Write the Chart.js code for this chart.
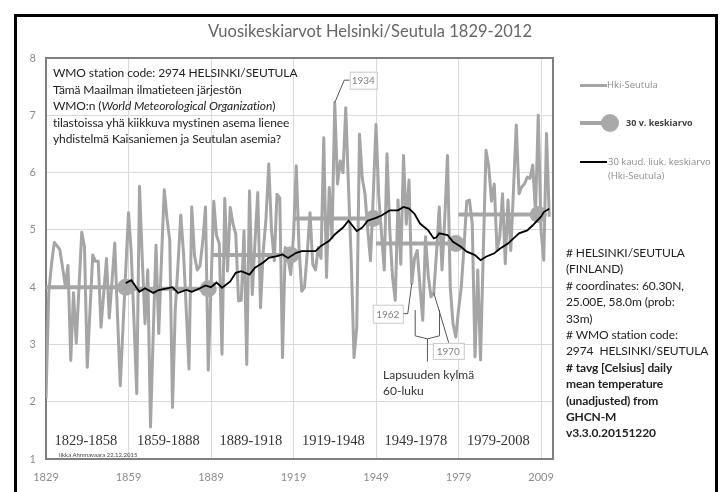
<!DOCTYPE html>
<html>
<head>
<meta charset="utf-8">
<script src="https://cdn.jsdelivr.net/npm/chart.js@4.4.0/dist/chart.umd.min.js"></script>
<style>
  html, body { margin: 0; padding: 0; background: #fff; }
  #wrap { position: relative; width: 726px; height: 492px; overflow: hidden; font-family: Lato, sans-serif; }
  #chart { position: absolute; left: 0; top: 0; }
  .frame { position: absolute; left: 14px; top: 14px; width: 698px; height: 520px; border: 3px solid #000; }
  .abs { position: absolute; white-space: nowrap; }
  .title { left: 0; width: 740px; top: 21px; text-align: center; font-size: 16.5px; color: #666; }
  .note { left: 53px; top: 65px; font-size: 12px; letter-spacing: -0.1px; line-height: 16.5px; color: #222; }
  .info { left: 566px; top: 245px; font-size: 12px; letter-spacing: -0.1px; line-height: 16.4px; color: #222; }
  .info b { font-weight: 700; }
  .leg-line { position: absolute; }
  .leg-text { position: absolute; white-space: nowrap; font-family: "Open Sans", sans-serif; font-size: 9.5px; color: #8c8c8c; line-height: 14px; }
  .period { position: absolute; top: 432px; font-family: "Liberation Serif", serif; font-size: 14.5px; color: #333; white-space: nowrap; transform: translateX(-50%); }
  .sign { left: 59px; top: 451px; font-size: 6px; color: #444; }
  .kid { left: 383px; top: 367px; font-size: 12px; line-height: 15.5px; color: #333; }
</style>
</head>
<body>
<div id="wrap">
  <canvas id="chart" width="726" height="492"></canvas>
  <div class="frame"></div>
  <div class="abs title">Vuosikeskiarvot Helsinki/Seutula 1829-2012</div>
  <div class="abs note">WMO station code: 2974 HELSINKI/SEUTULA<br>Tämä Maailman ilmatieteen järjestön<br>WMO:n (<i>World Meteorological Organization</i>)<br>tilastoissa yhä kiikkuva mystinen asema lienee<br>yhdistelmä Kaisaniemen ja Seutulan asemia?</div>

  <!-- legend -->
  <div class="leg-line" style="left:580px;top:84px;width:27px;height:3px;background:#a5a5a5"></div>
  <div class="leg-text" style="left:607px;top:78px">Hki-Seutula</div>
  <div class="leg-line" style="left:580px;top:121px;width:26px;height:4px;background:#a5a5a5"></div>
  <div class="leg-line" style="left:601px;top:114px;width:18px;height:18px;border-radius:50%;background:#a9a9a9"></div>
  <div class="leg-text" style="left:626px;top:116px;font-weight:700;color:#404040;font-size:9px">30 v. keskiarvo</div>
  <div class="leg-line" style="left:580px;top:161px;width:27px;height:2px;background:#000"></div>
  <div class="leg-text" style="left:608px;top:155px">30 kaud. liuk. keskiarvo<br>(Hki-Seutula)</div>

  <div class="abs info"># HELSINKI/SEUTULA<br>(FINLAND)<br># coordinates: 60.30N,<br>25.00E, 58.0m (prob:<br>33m)<br># WMO station code:<br>2974&nbsp; HELSINKI/SEUTULA<br><b># tavg [Celsius] daily<br>mean temperature<br>(unadjusted) from<br>GHCN-M<br>v3.3.0.20151220</b></div>

  <div class="abs sign">Ilkka Ahnmavaara 22.12.2015</div>
  <div class="abs kid">Lapsuuden kylmä<br>60-luku</div>
  <div id="periods"></div>
</div>

<script>
// annual mean temperatures, one block per 30-year period
const firstYear = 1829;
const temps1829 = [2.05, 3.9, 4.4, 4.78, 4.72, 4.66, 4.35, 4.03, 4.38, 2.72,
                   3.9, 3.02, 4.0, 4.96, 4.7, 2.6, 3.6, 4.56, 4.45, 4.45,
                   3.3, 3.9, 4.5, 3.46, 4.1, 4.77, 3.5, 2.28, 3.3, 4.3];
const temps1859 = [5.3, 4.6, 3.4, 2.14, 5.76, 4.5, 3.36, 4.3, 1.56, 3.2,
                   4.73, 3.19, 4.5, 5.7, 5.2, 4.82, 1.9, 3.6, 4.4, 5.26,
                   4.6, 3.6, 2.57, 5.4, 4.55, 4.3, 4.37, 4.8, 5.4, 2.55];
const temps1889 = [4.0, 5.5, 4.9, 4.76, 2.83, 5.55, 4.28, 5.39, 5.1, 4.93,
                   3.76, 3.77, 4.98, 2.65, 5.68, 3.87, 4.8, 5.65, 3.64, 4.63,
                   5.2, 6.15, 5.0, 4.46, 5.62, 5.56, 2.77, 4.69, 4.5, 4.22];
const temps1919 = [4.9, 6.12, 4.69, 3.93, 4.0, 4.6, 5.3, 4.4, 4.3, 4.69,
                   4.5, 6.61, 4.17, 5.74, 4.86, 7.22, 5.8, 6.2, 6.0, 7.13,
                   5.74, 4.46, 2.77, 3.3, 6.67, 5.9, 5.62, 5.0, 4.46, 5.6];
const temps1949 = [6.84, 5.58, 4.94, 4.3, 6.33, 5.0, 4.18, 3.77, 5.52, 4.4,
                   6.3, 5.1, 5.87, 4.06, 4.5, 4.64, 4.0, 3.42, 4.88, 4.2,
                   3.83, 3.9, 4.6, 5.4, 4.3, 5.2, 6.3, 4.0, 3.36, 3.13];
const temps1979 = [3.6, 4.0, 4.7, 5.5, 5.52, 5.1, 2.78, 4.3, 2.73, 4.6,
                   6.39, 6.1, 5.5, 5.8, 4.64, 4.88, 5.63, 4.41, 5.52, 4.64,
                   5.7, 6.83, 5.63, 5.75, 5.8, 5.92, 5.9, 6.13, 5.3, 7.0];
const temps2009 = [4.99, 4.47, 6.68, 5.23];

// 30 year means
const periodStarts = [1829, 1859, 1889, 1919, 1949, 1979];
const periodMeans = [4.0, 3.97, 4.56, 5.2, 4.76, 5.27];

// 30 year moving average (black line), read at a few points
const maYears = [1858, 1860, 1863, 1865, 1868, 1870, 1875, 1877, 1880, 1882, 1885, 1887,
                 1889, 1891, 1893, 1896, 1898, 1900, 1903, 1905, 1908, 1910, 1913, 1915, 1917,
                 1920, 1922, 1925, 1927, 1929, 1932, 1934, 1937, 1939, 1942, 1944, 1946,
                 1949, 1951, 1954, 1957, 1959, 1961, 1963, 1965, 1968, 1970, 1971, 1972, 1975, 1977,
                 1980, 1982, 1985, 1987, 1989, 1992, 1994, 1997, 1999, 2001, 2004, 2006, 2009, 2010, 2012];
const maValues = [4.07, 4.12, 3.92, 3.98, 3.9, 3.95, 4.0, 3.9, 3.95, 3.92, 3.98, 4.03,
                  4.0, 4.08, 3.99, 4.1, 4.25, 4.28, 4.22, 4.34, 4.43, 4.51, 4.54, 4.57, 4.51,
                  4.6, 4.63, 4.63, 4.63, 4.72, 4.81, 4.92, 5.04, 5.16, 4.98, 5.04, 5.16,
                  5.21, 5.25, 5.34, 5.34, 5.4, 5.37, 5.28, 5.11, 4.99, 4.85, 4.87, 4.94, 4.91, 4.79,
                  4.7, 4.62, 4.56, 4.47, 4.53, 4.59, 4.67, 4.76, 4.85, 4.94, 4.99, 5.08, 5.23, 5.31, 5.37];

// axis ticks
const xTicks = [1829, 1859, 1889, 1919, 1949, 1979, 2009];
const yTicks = [1, 2, 3, 4, 5, 6, 7, 8];

// years that get a small label box
const labelledYears = [1934, 1962, 1970];

const annualTemps = [].concat(temps1829, temps1859, temps1889, temps1919, temps1949, temps1979, temps2009);
const annualPoints = annualTemps.map((v, i) => ({ x: firstYear + i, y: v }));

const meanPoints = [];
periodStarts.forEach((s, i) => {
    meanPoints.push({ x: s, y: periodMeans[i] }, { x: s + 29, y: periodMeans[i] }, { x: s + 29, y: null });
});

const maPoints = maYears.map((yr, i) => ({ x: yr, y: maValues[i] }));

Chart.defaults.font.family = 'Lato, sans-serif';

// plot frame, year boxes and the bracket under the 60's
const notesPlugin = {
    id: 'notes',
    beforeDatasetsDraw(chart) {
        const { left, top, right, bottom } = chart.chartArea;
        const ctx = chart.ctx;
        ctx.save();
        ctx.strokeStyle = '#7f7f7f';
        ctx.lineWidth = 2;
        ctx.strokeRect(left, top, right - left, bottom - top);
        ctx.restore();
    },
    afterDatasetsDraw(chart) {
        const ctx = chart.ctx;
        const xs = chart.scales.x, ys = chart.scales.y;
        const pts = chart.getDatasetMeta(2).data;
        ctx.save();
        ctx.font = '10px Lato, sans-serif';
        ctx.textAlign = 'center';
        ctx.textBaseline = 'middle';

        function box(bx, by, w, h, txt) {
            ctx.fillStyle = '#fff';
            ctx.fillRect(bx, by, w, h);
            ctx.strokeStyle = '#c8c8c8';
            ctx.lineWidth = 1;
            ctx.strokeRect(bx + 0.5, by + 0.5, w, h);
            ctx.fillStyle = '#7f7f7f';
            ctx.fillText(txt, bx + w / 2, by + h / 2 + 1);
        }
        function path(list) {
            ctx.strokeStyle = '#555';
            ctx.lineWidth = 1;
            ctx.beginPath();
            list.forEach((p, i) => i ? ctx.lineTo(p[0], p[1]) : ctx.moveTo(p[0], p[1]));
            ctx.stroke();
        }

        // 1934
        let p = pts[labelledYears[0] - firstYear];
        path([[p.x, p.y], [p.x + 9.5, p.y - 22.5], [p.x + 15, p.y - 22.5]]);
        box(p.x + 15, p.y - 31, 27, 17, String(labelledYears[0]));
        // 1962
        p = pts[labelledYears[1] - firstYear];
        path([[p.x, p.y], [p.x - 4, p.y + 30], [p.x - 9, p.y + 30]]);
        box(p.x - 39, p.y + 21, 30, 18, String(labelledYears[1]));
        // 1970
        p = pts[labelledYears[2] - firstYear];
        path([[p.x, p.y], [p.x + 15, p.y + 50]]);
        box(p.x - 1, p.y + 50, 31, 16, String(labelledYears[2]));

        // bracket
        const bl = xs.getPixelForValue(1963.25), br = xs.getPixelForValue(1972.1), bc = xs.getPixelForValue(1967.7);
        const bt = ys.getPixelForValue(3.6), bm = ys.getPixelForValue(3.15), bb = ys.getPixelForValue(2.7);
        path([[bl, bt], [bl, bm], [bc, bm + 3], [br, bm], [br, bt]]);
        path([[bc, bm + 3], [bc, bb]]);
        ctx.restore();
    }
};

const chart = new Chart(document.getElementById('chart'), {
    type: 'line',
    data: {
        datasets: [
            {
                label: '30 kaud. liuk. keskiarvo (Hki-Seutula)',
                data: maPoints,
                borderColor: '#000',
                borderWidth: 1.8,
                pointRadius: 0,
                tension: 0
            },
            {
                label: '30 v. keskiarvo',
                data: meanPoints,
                borderColor: '#a5a5a5',
                borderWidth: 4,
                spanGaps: false,
                pointRadius: ctx => (ctx.index % 3 === 1 ? 8.5 : 0),
                pointBackgroundColor: '#a9a9a9',
                pointBorderWidth: 0
            },
            {
                label: 'Hki-Seutula',
                data: annualPoints,
                borderColor: '#a5a5a5',
                borderWidth: 3,
                borderJoinStyle: 'round',
                pointRadius: 0,
                tension: 0
            }
        ]
    },
    options: {
        responsive: false,
        animation: false,
        devicePixelRatio: 1,
        layout: { padding: { left: 0, top: 58, right: 173, bottom: 0 } },
        plugins: { legend: { display: false }, title: { display: false }, tooltip: { enabled: false } },
        scales: {
            x: {
                type: 'linear',
                min: 1829,
                max: 2013.36,
                afterBuildTicks: s => { s.ticks = xTicks.map(v => ({ value: v })); },
                afterFit: s => { s.height = 33; },
                grid: { color: '#d9d9d9', drawTicks: false },
                border: { display: false },
                ticks: { padding: 12, color: '#8c8c8c', font: { size: 11 }, autoSkip: false, maxRotation: 0,
                         callback: v => String(v) }
            },
            y: {
                min: 1,
                max: 8,
                afterBuildTicks: s => { s.ticks = yTicks.map(v => ({ value: v })); },
                afterFit: s => { s.width = 46; },
                grid: { color: '#d9d9d9', drawTicks: false },
                border: { display: false },
                ticks: { padding: 10, color: '#8c8c8c', font: { size: 11 } }
            }
        }
    },
    plugins: [notesPlugin]
});

// period labels under the curves
const periodBox = document.getElementById('periods');
periodStarts.forEach(s => {
    const d = document.createElement('div');
    d.className = 'period';
    d.style.left = chart.scales.x.getPixelForValue(s + 14.5) + 'px';
    d.textContent = s + '-' + (s + 29);
    periodBox.appendChild(d);
});
</script>
</body>
</html>
